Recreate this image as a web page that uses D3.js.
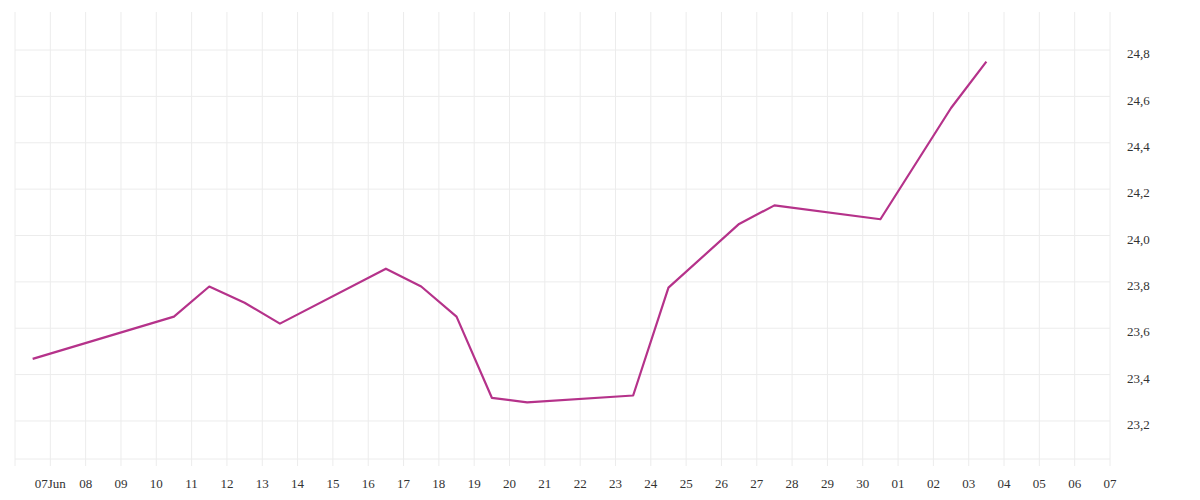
<!DOCTYPE html>
<html><head><meta charset="utf-8">
<script src="https://cdn.jsdelivr.net/npm/d3@7"></script>
<style>body{margin:0;background:#fff}text{font-family:"Liberation Serif","DejaVu Serif",serif;font-size:13px;fill:#333}</style>
</head><body><svg id="c" width="1200" height="500"></svg>
<script>
const dates = ["2024-06-06T12:00","2024-06-10T12:00","2024-06-11T12:00","2024-06-12T12:00","2024-06-13T12:00","2024-06-16T12:00","2024-06-17T12:00","2024-06-18T12:00","2024-06-19T12:00","2024-06-20T12:00","2024-06-23T12:00","2024-06-24T12:00","2024-06-26T12:00","2024-06-27T12:00","2024-06-30T12:00","2024-07-02T12:00","2024-07-03T12:00"];
const values = [23.468,23.65,23.78,23.71,23.62,23.857,23.78,23.65,23.30,23.28,23.31,23.775,24.05,24.13,24.07,24.55,24.75];
const yTicks = [23.2,23.4,23.6,23.8,24.0,24.2,24.4,24.6,24.8];

const svg = d3.select("#c");
const parse = d3.timeParse("%Y-%m-%dT%H:%M");
const data = dates.map((d,i)=>({d:parse(d),v:values[i]}));
const x = d3.scaleTime().domain([parse("2024-06-06T00:00"),parse("2024-07-07T00:00")]).range([15,1110]);
const y = d3.scaleLinear().domain([23.036,24.964]).range([459,12]);
const grid = "#ececec";
const days = d3.timeDay.range(parse("2024-06-06T00:00"), parse("2024-07-07T00:01"));
svg.append("g").selectAll("line").data(days).join("line")
  .attr("x1",d=>x(d)).attr("x2",d=>x(d)).attr("y1",12).attr("y2",466)
  .attr("stroke",grid).attr("stroke-width",1);
svg.append("g").selectAll("line").data(yTicks.concat([23.036])).join("line")
  .attr("x1",15).attr("x2",1110).attr("y1",d=>y(d)).attr("y2",d=>y(d))
  .attr("stroke",grid).attr("stroke-width",1);
svg.append("g").selectAll("text").data(yTicks).join("text")
  .attr("x",1127).attr("y",d=>y(d)+4).attr("dy","0.32em").text(d=>d3.format(".1f")(d).replace(".",","));
const fmt = d3.timeFormat("%d"), fmtM = d3.timeFormat("%d%b");
svg.append("g").selectAll("text").data(days.slice(1)).join("text")
  .attr("x",d=>x(d)).attr("y",488).attr("text-anchor","middle")
  .text((d,i)=>i===0?fmtM(d):fmt(d));
svg.append("path").datum(data)
  .attr("d",d3.line().x(d=>x(d.d)).y(d=>y(d.v)))
  .attr("fill","none").attr("stroke","#b5328a").attr("stroke-width",2.2).attr("stroke-linejoin","round");
</script></body></html>
